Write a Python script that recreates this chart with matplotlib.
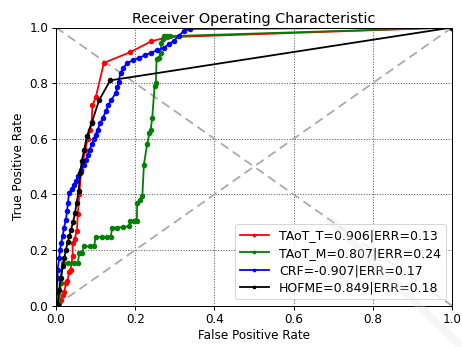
import matplotlib
matplotlib.use('Agg')
import matplotlib.pyplot as plt
from matplotlib.lines import Line2D

# ROC points (fpr, tpr)
taot_t_fpr = [0, 0.008, 0.013, 0.017, 0.021, 0.025, 0.029, 0.033, 0.037, 0.042, 0.042, 0.047,
              0.053, 0.055, 0.059, 0.063, 0.068, 0.074, 0.080, 0.086, 0.090, 0.092, 0.1005,
              0.121, 0.187, 0.240, 0.280, 1.0]
taot_t_tpr = [0, 0.010, 0.020, 0.040, 0.050, 0.080, 0.090, 0.120, 0.130, 0.180, 0.225, 0.240,
              0.270, 0.330, 0.400, 0.480, 0.520, 0.560, 0.600, 0.630, 0.660, 0.720, 0.750,
              0.873, 0.911, 0.950, 0.965, 1.0]

taot_m_fpr = [0, 0.008, 0.012, 0.017, 0.030, 0.045, 0.055, 0.059, 0.065, 0.071, 0.085, 0.096,
              0.1005, 0.115, 0.130, 0.138, 0.142, 0.155, 0.170, 0.184, 0.188, 0.196, 0.204,
              0.205, 0.212, 0.218, 0.222, 0.230, 0.236, 0.239, 0.243, 0.249, 0.252, 0.254,
              0.260, 0.264, 0.266, 0.270, 0.272, 0.280, 0.289, 1.0]
taot_m_tpr = [0, 0.010, 0.080, 0.153, 0.153, 0.153, 0.153, 0.190, 0.190, 0.213, 0.213, 0.213,
              0.247, 0.247, 0.247, 0.247, 0.279, 0.281, 0.283, 0.285, 0.303, 0.303, 0.303,
              0.369, 0.380, 0.393, 0.507, 0.580, 0.620, 0.633, 0.675, 0.789, 0.800, 0.885,
              0.890, 0.909, 0.945, 0.960, 0.969, 0.969, 0.969, 1.0]

crf_fpr = [0, 0.002, 0.004, 0.004, 0.008, 0.010, 0.013, 0.017, 0.020, 0.025, 0.028, 0.030,
           0.033, 0.040, 0.045, 0.050, 0.056, 0.063, 0.070, 0.076, 0.080, 0.085, 0.090,
           0.096, 0.100, 0.105, 0.112, 0.118, 0.126, 0.132, 0.140, 0.151, 0.155, 0.158,
           0.163, 0.170, 0.180, 0.195, 0.209, 0.225, 0.239, 0.255, 0.272, 0.285, 0.297,
           0.310, 0.322, 0.339, 1.0]
crf_tpr = [0, 0.050, 0.100, 0.130, 0.170, 0.200, 0.225, 0.250, 0.280, 0.309, 0.340, 0.370,
           0.405, 0.420, 0.435, 0.447, 0.465, 0.489, 0.505, 0.525, 0.543, 0.560, 0.580,
           0.600, 0.615, 0.633, 0.655, 0.675, 0.699, 0.720, 0.740, 0.765, 0.785, 0.805,
           0.837, 0.855, 0.873, 0.882, 0.891, 0.900, 0.909, 0.918, 0.927, 0.940, 0.951,
           0.970, 0.987, 0.995, 1.0]

hofme_fpr = [0, 0.004, 0.008, 0.012, 0.017, 0.021, 0.025, 0.030, 0.034, 0.038, 0.043, 0.048,
             0.052, 0.057, 0.061, 0.065, 0.071, 0.078, 0.090, 0.109, 0.137, 1.0]
hofme_tpr = [0, 0.004, 0.058, 0.100, 0.141, 0.170, 0.201, 0.230, 0.250, 0.273, 0.300, 0.333,
             0.370, 0.411, 0.477, 0.519, 0.559, 0.609, 0.657, 0.739, 0.810, 1.0]

labels = ['TAoT_T=0.906|ERR=0.13', 'TAoT_M=0.807|ERR=0.24',
          'CRF=-0.907|ERR=0.17', 'HOFME=0.849|ERR=0.18']

fig = plt.figure(figsize=(462 / 72, 347 / 72), dpi=72)
ax = fig.add_axes([56 / 462, 1 - 305.7 / 347, 396 / 462, 278.2 / 347])

# chance line and its mirror
ax.plot([0, 1], [0, 1], '--', color='#aaaaaa', lw=1.8, dashes=(5, 3))
ax.plot([0, 1], [1, 0], '--', color='#aaaaaa', lw=1.8, dashes=(5, 3))

ax.plot(taot_t_fpr, taot_t_tpr, 'o-', color='red', lw=1.8, ms=4.5, label=labels[0])
ax.plot(taot_m_fpr, taot_m_tpr, 'o-', color='green', lw=1.8, ms=4.5, label=labels[1])
ax.plot(crf_fpr, crf_tpr, 'o-', color='blue', lw=1.8, ms=4.5, label=labels[2])
ax.plot(hofme_fpr, hofme_tpr, 'o-', color='black', lw=1.8, ms=4.5, label=labels[3])

ax.set_xlim(0, 1)
ax.set_ylim(0, 1)
ax.set_xticks([0, 0.2, 0.4, 0.6, 0.8, 1.0])
ax.set_yticks([0, 0.2, 0.4, 0.6, 0.8, 1.0])
ax.grid(True, linestyle=':', color='#555555', lw=1.0)
ax.tick_params(labelsize=12, width=1.0, length=4)
for s in ax.spines.values():
    s.set_linewidth(1.0)
ax.set_title('Receiver Operating Characteristic', fontsize=14.4, pad=5)
ax.set_xlabel('False Positive Rate', fontsize=12, labelpad=3)
ax.set_ylabel('True Positive Rate', fontsize=12, labelpad=4)
ax.legend(loc='lower right', fontsize=12.5, numpoints=1, markerscale=0.6,
          handlelength=2.3, borderpad=0.4, labelspacing=0.35)

# faint watermark stripe
fig.add_artist(Line2D([330 / 462, 470 / 462], [1 - 220 / 347, 1 - 355 / 347],
                      transform=fig.transFigure, color='#e4e4e4', lw=8, alpha=0.3))

fig.savefig('out.png', dpi=72)
